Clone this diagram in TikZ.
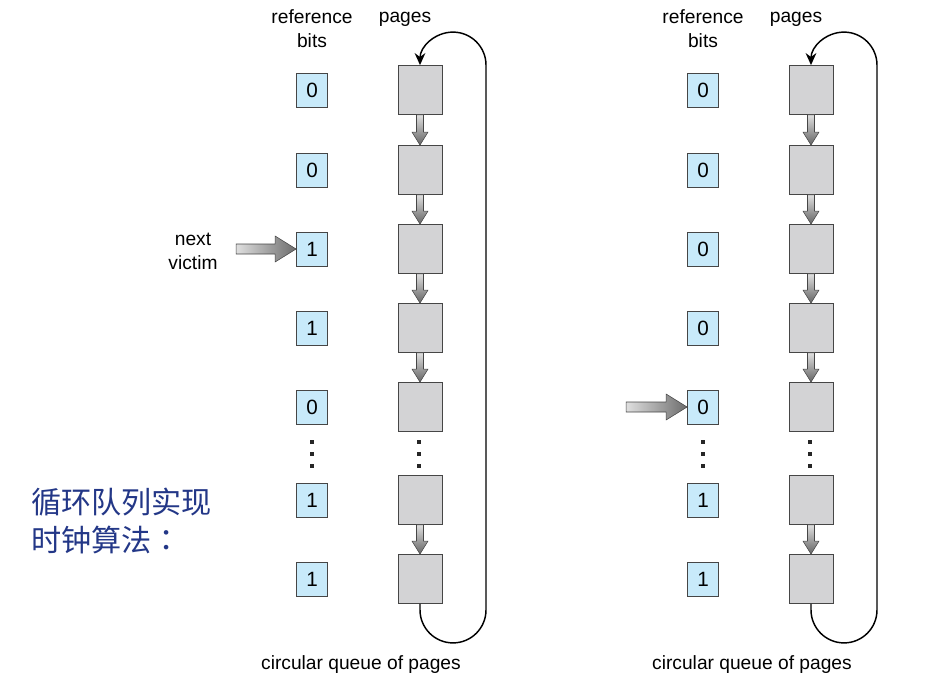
\documentclass[tikz,border=0pt]{standalone}
\usepackage{fontspec}
\setmainfont{Liberation Sans}
\newfontfamily\cjk{Noto Sans CJK SC}
\newfontfamily\cjktc{Noto Sans CJK TC}
\usetikzlibrary{calc,arrows.meta}
\definecolor{bitblue}{RGB}{200,234,250}
\definecolor{pagegray}{RGB}{211,211,213}
\definecolor{edge}{RGB}{70,70,70}
\definecolor{cjkblue}{RGB}{35,55,135}
\tikzset{
 bitbox/.style={draw=edge, line width=0.6pt, fill=bitblue, minimum width=23.25pt, minimum height=25.5pt, inner sep=0pt, font=\fontsize{15.5}{18}\selectfont},
 pagebox/.style={draw=edge, line width=0.6pt, fill=pagegray, minimum width=33pt, minimum height=36.75pt, inner sep=0pt},
 lbl/.style={font=\fontsize{14.4}{18}\selectfont, align=center, inner sep=0pt},
 dotmark/.style={fill=black!85, minimum size=2.4pt, inner sep=0pt},
 vshade/.style={top color=gray!25, bottom color=gray!78!black, draw=edge, line width=0.4pt},
 hshade/.style={left color=gray!25, right color=gray!85!black, draw=edge, line width=0.4pt},
 looparrow/.style={line width=1.1pt, -{Stealth[length=9pt,width=8pt]}},
}
\begin{document}
\begin{tikzpicture}[x=0.75pt,y=-0.75pt]
\useasboundingbox (0,0) rectangle (932,693);
\foreach \s/\dx/\vals in {L/0/{0,0,1,1,0,1,1},R/391/{0,0,0,0,0,1,1}}{
  \node[lbl] (ref\s) at (312+\dx,29) {reference\\bits};
  \node[lbl] (pg\s) at (405+\dx,19) {pages};
  \node[lbl] (cq\s) at (361+\dx,665) {circular queue of pages};
  \foreach \v [count=\i] in \vals {
    \pgfmathsetmacro\yy{{90,170,249,328,407,500,579}[\i-1]}
    \node[bitbox] (b\s\i) at (312+\dx,\yy) {\v};
    \node[pagebox] (p\s\i) at (420+\dx,\yy) {};
  }
  \foreach \a/\b in {1/2,2/3,3/4,4/5,6/7}{
    \shade[vshade] ($(p\s\a.south)+(-3.5,0)$) -- ($(p\s\b.north)+(-3.5,-13)$) -- ($(p\s\b.north)+(-8,-13)$) -- (p\s\b.north) -- ($(p\s\b.north)+(8,-13)$) -- ($(p\s\b.north)+(3.5,-13)$) -- ($(p\s\a.south)+(3.5,0)$) -- cycle;
  }
  \foreach \k/\yd in {1/442,2/454,3/466}{
    \node[dotmark] (db\s\k) at (312+\dx,\yd) {};
    \node[dotmark] (dp\s\k) at (419+\dx,\yd) {};
  }
  \draw[looparrow] (p\s7.south) -- ++(0,6) arc[start angle=180,end angle=0,radius=33] -- ($(p\s1.north)+(66,0)$) arc[start angle=0,end angle=-180,radius=33];
}
% pointers
\coordinate (tailL) at ($(bL3.west)+(-60,0)$);
\shade[hshade] ($(tailL)+(0,-5)$) -- ($(bL3.west)+(-21,-5)$) -- ($(bL3.west)+(-21,-13)$) -- (bL3.west) -- ($(bL3.west)+(-21,13)$) -- ($(bL3.west)+(-21,5)$) -- ($(tailL)+(0,5)$) -- cycle;
\node[lbl] (nv) at (193,251) {next\\victim};
\coordinate (tailR) at ($(bR5.west)+(-61,0)$);
\shade[hshade] ($(tailR)+(0,-5)$) -- ($(bR5.west)+(-21,-5)$) -- ($(bR5.west)+(-21,-13)$) -- (bR5.west) -- ($(bR5.west)+(-21,13)$) -- ($(bR5.west)+(-21,5)$) -- ($(tailR)+(0,5)$) -- cycle;
\node[anchor=west, align=left, inner sep=0pt, text=cjkblue, font=\cjk\fontsize{22.6}{28}\selectfont] (cjk) at (31,521) {循环队列实现\\时钟算法{\cjktc ：}};
\end{tikzpicture}
\end{document}
